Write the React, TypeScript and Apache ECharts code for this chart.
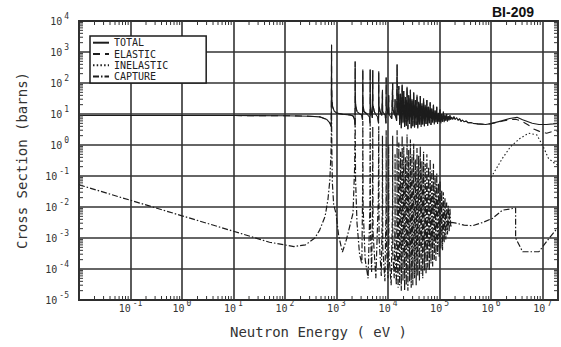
import { useEffect, useRef } from 'react';
import * as echarts from 'echarts';

type Pt = [number, number];

// Axis extents in decades: log10(eV) across, log10(barns) up
const X_MIN = -2;
const X_MAX = 7.3;
const Y_MIN = -5;
const Y_MAX = 4;

// Decades that carry a "10^n" label
const xLabelDecades = [-1, 0, 1, 2, 3, 4, 5, 6, 7];
const yLabelDecades = [-5, -4, -3, -2, -1, 0, 1, 2, 3, 4];
// Mantissas of the minor ticks inside each decade
const minorMantissas = [2, 3, 4, 5, 6, 7, 8, 9];

const seriesNames = ['TOTAL', 'ELASTIC', 'INELASTIC', 'CAPTURE'];

// ---- cross sections, [energy (eV), barns] ----

// Smooth potential scattering up to the 800 eV resonance
const totalThermal: Pt[] = [
  [0.01, 8.9], [0.1, 8.9], [1, 8.9], [10, 8.9], [100, 8.8], [300, 8.5],
  [470, 8.1], [650, 6.6], [740, 5.2], [790, 3.9],
];

// Resolved resonances, 0.8 - 16 keV
const totalResolved: Pt[] = [
  [800, 1700], [806, 80], [815, 28], [840, 17], [900, 12.5], [1000, 10.8],
  [1300, 9.8], [1800, 9.4], [2100, 8.6], [2250, 6.2], [2290, 4.5],
  [2300, 490], [2315, 40], [2360, 18], [2500, 12], [2800, 10.2], [3100, 9.2],
  [3200, 6.5], [3240, 275], [3260, 22], [3400, 12], [3900, 10], [4350, 8],
  [4480, 5], [4500, 280], [4530, 20], [4700, 12], [4950, 7.5], [5050, 260],
  [5080, 20], [5400, 12], [5700, 10], [6300, 8], [6550, 5], [6600, 240],
  [6650, 20], [7000, 12], [7600, 9], [7800, 60], [7850, 12], [8800, 9],
  [9150, 5], [9200, 150], [9260, 18], [10000, 10], [10300, 40], [10400, 10],
  [11800, 7], [12300, 100], [12400, 14], [13500, 9], [13700, 30], [13800, 9],
  [14700, 6], [15000, 400], [15150, 20], [15700, 9],
];

// Dense resonance forest, 16 - 165 keV (peak, dip, peak, ...)
const totalForest: Pt[] = [
  [16200, 80], [16800, 4.5], [17500, 45], [18100, 3.5], [18800, 90], [19500, 5],
  [20200, 55], [21000, 3.8], [21800, 35], [22600, 4.2], [23400, 75], [24300, 3.2],
  [25200, 40], [26200, 4.8], [27200, 60], [28200, 3.5], [29200, 30], [30300, 4],
  [31500, 50], [32700, 3.6], [33900, 28], [35200, 4.4], [36500, 42], [37800, 3.4],
  [39300, 25], [40700, 4.5], [42300, 38], [43900, 3.8], [45500, 22], [47200, 4.6],
  [49000, 32], [50800, 4], [52700, 20], [54700, 4.8], [56800, 28], [58900, 4.2],
  [61100, 17], [63400, 5], [65800, 24], [68200, 4.4], [70800, 15], [73500, 5.2],
  [76200, 20], [79100, 4.6], [82000, 13], [85100, 5.4], [88300, 17], [91600, 4.8],
  [95100, 11], [98600, 5.5], [102300, 14], [106200, 5], [110200, 10], [114300, 5.6],
  [118600, 12], [123000, 5.4], [127600, 9], [132400, 6], [137400, 10], [142600, 5.8],
  [147900, 8.5], [153500, 6.2], [159200, 9], [165200, 6.5],
];

// Unresolved region up to 1 MeV, common to total and elastic
const totalUnresolved: Pt[] = [
  [170000, 8], [180000, 6.8], [190000, 8.2], [200000, 6.6], [215000, 7.6],
  [230000, 6.3], [245000, 7.0], [260000, 5.8], [280000, 6.4], [300000, 5.6],
  [330000, 5.9], [360000, 5.2], [400000, 5.3], [450000, 5.0], [550000, 4.8],
  [790000, 4.6], [1.0e6, 4.9],
];

const totalFast: Pt[] = [
  [1.6e6, 6.0], [2.3e6, 7.2], [3.2e6, 7.8], [4.1e6, 6.5], [6.3e6, 5.0],
  [8.5e6, 4.6], [1.2e7, 4.6], [1.6e7, 4.8], [2.0e7, 5.0],
];

const elasticFast: Pt[] = [
  [1.6e6, 5.8], [2.3e6, 6.6], [3.0e6, 6.8], [3.8e6, 6.0], [5.2e6, 4.5],
  [6.9e6, 3.2], [8.5e6, 2.8], [1.2e7, 2.4], [1.55e7, 2.7], [2.0e7, 2.8],
];

const inelastic: Pt[] = [
  [1.0e6, 0.09], [1.66e6, 0.37], [2.4e6, 0.89], [3.7e6, 1.66], [5.4e6, 2.4],
  [7.8e6, 2.1], [1.03e7, 0.89], [1.3e7, 0.37], [1.75e7, 0.25], [2.0e7, 0.22],
];

const captureThermal: Pt[] = [
  [0.01, 0.052], [1, 0.0052], [10, 0.00165], [50, 7.3e-4], [150, 5.3e-4],
  [250, 6.0e-4], [380, 1.0e-3], [470, 1.8e-3], [600, 5e-3], [680, 0.017],
  [740, 0.07], [780, 0.5], [795, 3],
];

const captureResolved: Pt[] = [
  [800, 12], [812, 0.6], [830, 0.06], [880, 0.012], [980, 6e-3], [1100, 1.2e-3],
  [1300, 3.5e-4], [1550, 8.7e-4], [2090, 6.3e-3], [2250, 0.2], [2300, 8],
  [2340, 0.08], [2500, 3e-3], [2800, 3e-4], [3100, 1.5e-4], [3220, 0.05],
  [3240, 6], [3280, 0.01], [3600, 2e-4], [4100, 5e-5], [4450, 0.01], [4500, 5],
  [4560, 2e-3], [4800, 8e-5], [5000, 0.01], [5050, 4], [5120, 1.5e-3],
  [5800, 5e-5], [6500, 0.02], [6600, 4], [6700, 1e-3], [7400, 6e-5],
  [7750, 0.01], [7800, 2], [7900, 5e-4], [8700, 4e-5], [9150, 0.01], [9200, 3],
  [9300, 6e-4], [10000, 5e-5], [10280, 0.01], [10300, 1], [10400, 3e-4],
  [11500, 3e-5], [12250, 0.01], [12300, 2], [12400, 3e-4], [13200, 5e-5],
  [13650, 0.005], [13700, 0.5], [13800, 2e-4], [14500, 3e-5], [14950, 0.01],
  [15000, 3], [15150, 3e-4], [15700, 2.5e-5],
];

const captureForest: Pt[] = [
  [16200, 1.2], [16800, 3e-5], [17500, 0.6], [18100, 2e-5], [18800, 2.0], [19500, 4e-5],
  [20200, 0.9], [21000, 2e-5], [21800, 0.4], [22600, 3e-5], [23400, 2.2], [24300, 2e-5],
  [25200, 0.7], [26200, 4e-5], [27200, 1.5], [28200, 2.5e-5], [29200, 0.5], [30300, 3e-5],
  [31500, 1.1], [32700, 5e-5], [33900, 0.35], [35200, 3e-5], [36500, 0.8], [37800, 6e-5],
  [39300, 0.45], [40700, 4e-5], [42300, 0.9], [43900, 7e-5], [45500, 0.3], [47200, 5e-5],
  [49000, 0.6], [50800, 9e-5], [52700, 0.25], [54700, 7e-5], [56800, 0.5], [58900, 1.1e-4],
  [61100, 0.2], [63400, 9e-5], [65800, 0.35], [68200, 1.5e-4], [70800, 0.15], [73500, 1.2e-4],
  [76200, 0.25], [79100, 2e-4], [82000, 0.1], [85100, 1.8e-4], [88300, 0.12], [91600, 3e-4],
  [95100, 0.06], [98600, 2.5e-4], [102300, 0.07], [106200, 4.5e-4], [110200, 0.035], [114300, 4e-4],
  [118600, 0.03], [123000, 7e-4], [127600, 0.02], [132400, 9e-4], [137400, 0.014], [142600, 1.3e-3],
  [147900, 0.011], [153500, 1.6e-3], [159200, 0.009], [165200, 2.2e-3],
];

const captureFast: Pt[] = [
  [170000, 3.2e-3], [210000, 3.0e-3], [300000, 2.6e-3], [440000, 2.5e-3],
  [700000, 3.2e-3], [1.07e6, 4.3e-3], [1.66e6, 7.9e-3], [2.5e6, 8.8e-3],
  [3.0e6, 9.2e-3], [3.0e6, 1.0e-3], [4.1e6, 3.6e-4], [8.5e6, 3.6e-4],
  [1.35e7, 1.0e-3], [2.0e7, 2.2e-3],
];

const MONO = '"DejaVu Sans Mono", monospace';
const INK = '#1c1c1c';
const GRID = '#333';
const TICK_LEN = 4;

const toLog = (pts: Pt[]) => pts.map(([e, s]) => [Math.log10(e), Math.log10(s)]);

const totalData = toLog([...totalThermal, ...totalResolved, ...totalForest, ...totalUnresolved, ...totalFast]);
const elasticData = toLog([...totalThermal, ...totalResolved, ...totalForest, ...totalUnresolved, ...elasticFast]);
const inelasticData = toLog(inelastic);
const captureData = toLog([...captureThermal, ...captureResolved, ...captureForest, ...captureFast]);

// Minor tick positions: kind 0 = energy axis, kind 1 = cross-section axis
const minorTicks: number[][] = [];
for (let d = Math.floor(X_MIN); d < X_MAX; d++) {
  minorMantissas.forEach((m) => {
    const v = d + Math.log10(m);
    if (v > X_MIN && v < X_MAX) minorTicks.push([0, v]);
  });
}
for (let d = Y_MIN; d < Y_MAX; d++) {
  minorMantissas.forEach((m) => minorTicks.push([1, d + Math.log10(m)]));
}

const decadeLabel = (allowed: number[]) => (v: number) => {
  const n = Math.round(v);
  if (Math.abs(v - n) > 1e-6 || !allowed.includes(n)) return '';
  return `{b|10}{e|${n}}`;
};

const labelRich = {
  b: { fontFamily: MONO, fontSize: 10, lineHeight: 18, color: GRID },
  e: { fontFamily: MONO, fontSize: 8, lineHeight: 8, verticalAlign: 'top', padding: [0, 0, 0, 2], color: GRID },
};

const lineSeries = (name: string, data: number[][], type: any, width = 1.1) => ({
  name,
  type: 'line',
  data,
  symbol: 'none',
  showSymbol: false,
  silent: true,
  color: INK,
  itemStyle: { color: INK },
  lineStyle: { color: INK, width, type },
  z: 3,
});

export default function App() {
  const ref = useRef<HTMLDivElement>(null);

  useEffect(() => {
    if (!ref.current) return;
    const chart = echarts.init(ref.current, undefined, { renderer: 'svg' });
    chart.setOption({
      animation: false,
      backgroundColor: '#fff',
      color: [INK],
      title: {
        text: 'BI-209',
        right: 22,
        top: 0,
        textStyle: { fontFamily: '"Liberation Sans", Arial, sans-serif', fontWeight: 'bold', fontSize: 14, color: '#111' },
      },
      legend: {
        data: seriesNames,
        orient: 'vertical',
        left: 90,
        top: 36,
        itemWidth: 16,
        itemHeight: 10,
        itemGap: 0.3,
        itemTextGap: 4,
        padding: [1.2, 38, 1, 2],
        backgroundColor: '#fff',
        borderColor: INK,
        borderWidth: 1.5,
        selectedMode: false,
        itemStyle: { opacity: 0 },
        textStyle: { fontFamily: MONO, fontSize: 10, lineHeight: 11, color: '#222' },
        z: 10,
      },
      grid: {
        left: 79,
        right: 1.5,
        top: 21,
        bottom: 47,
        show: true,
        borderColor: INK,
        borderWidth: 1.8,
        backgroundColor: 'transparent',
      },
      xAxis: {
        type: 'value',
        min: X_MIN,
        max: X_MAX,
        interval: 1,
        name: 'Neutron Energy ( eV )',
        nameLocation: 'middle',
        nameGap: 25,
        nameTextStyle: { fontFamily: MONO, fontSize: 14, color: GRID },
        axisLine: { show: false },
        axisTick: { show: false },
        axisLabel: { formatter: decadeLabel(xLabelDecades), rich: labelRich, margin: -1, showMinLabel: true, showMaxLabel: true },
        splitLine: { show: true, lineStyle: { color: GRID, width: 1.6 } },
      },
      yAxis: {
        type: 'value',
        min: Y_MIN,
        max: Y_MAX,
        interval: 1,
        name: 'Cross Section (barns)',
        nameLocation: 'middle',
        nameGap: 50,
        nameTextStyle: { fontFamily: MONO, fontSize: 14, color: GRID },
        axisLine: { show: false },
        axisTick: { show: false },
        axisLabel: { formatter: decadeLabel(yLabelDecades), rich: labelRich, margin: 10, showMinLabel: true, showMaxLabel: true },
        splitLine: { show: true, lineStyle: { color: GRID, width: 1.6 } },
      },
      series: [
        lineSeries('TOTAL', totalData, 'solid', 1.1),
        lineSeries('ELASTIC', elasticData, [7, 5], 1.1),
        lineSeries('INELASTIC', inelasticData, [1.5, 2.2], 1.1),
        lineSeries('CAPTURE', captureData, [6, 2, 1.5, 2], 1.2),
        {
          type: 'custom',
          silent: true,
          clip: false,
          z: 4,
          data: minorTicks,
          renderItem: (_params: any, api: any) => {
            const kind = api.value(0);
            const v = api.value(1);
            const style = { stroke: GRID, lineWidth: 1 };
            if (kind === 0) {
              const b = api.coord([v, Y_MIN]);
              const t = api.coord([v, Y_MAX]);
              return {
                type: 'group',
                children: [
                  { type: 'line', shape: { x1: b[0], y1: b[1], x2: b[0], y2: b[1] - TICK_LEN }, style },
                  { type: 'line', shape: { x1: t[0], y1: t[1], x2: t[0], y2: t[1] + TICK_LEN }, style },
                ],
              };
            }
            const l = api.coord([X_MIN, v]);
            const r = api.coord([X_MAX, v]);
            return {
              type: 'group',
              children: [
                { type: 'line', shape: { x1: l[0], y1: l[1], x2: l[0] + TICK_LEN, y2: l[1] }, style },
                { type: 'line', shape: { x1: r[0], y1: r[1], x2: r[0] - TICK_LEN, y2: r[1] }, style },
              ],
            };
          },
        },
      ],
    });
    return () => chart.dispose();
  }, []);

  return <div ref={ref} style={{ position: 'fixed', left: 0, top: 0, width: 561, height: 347 }} />;
}
